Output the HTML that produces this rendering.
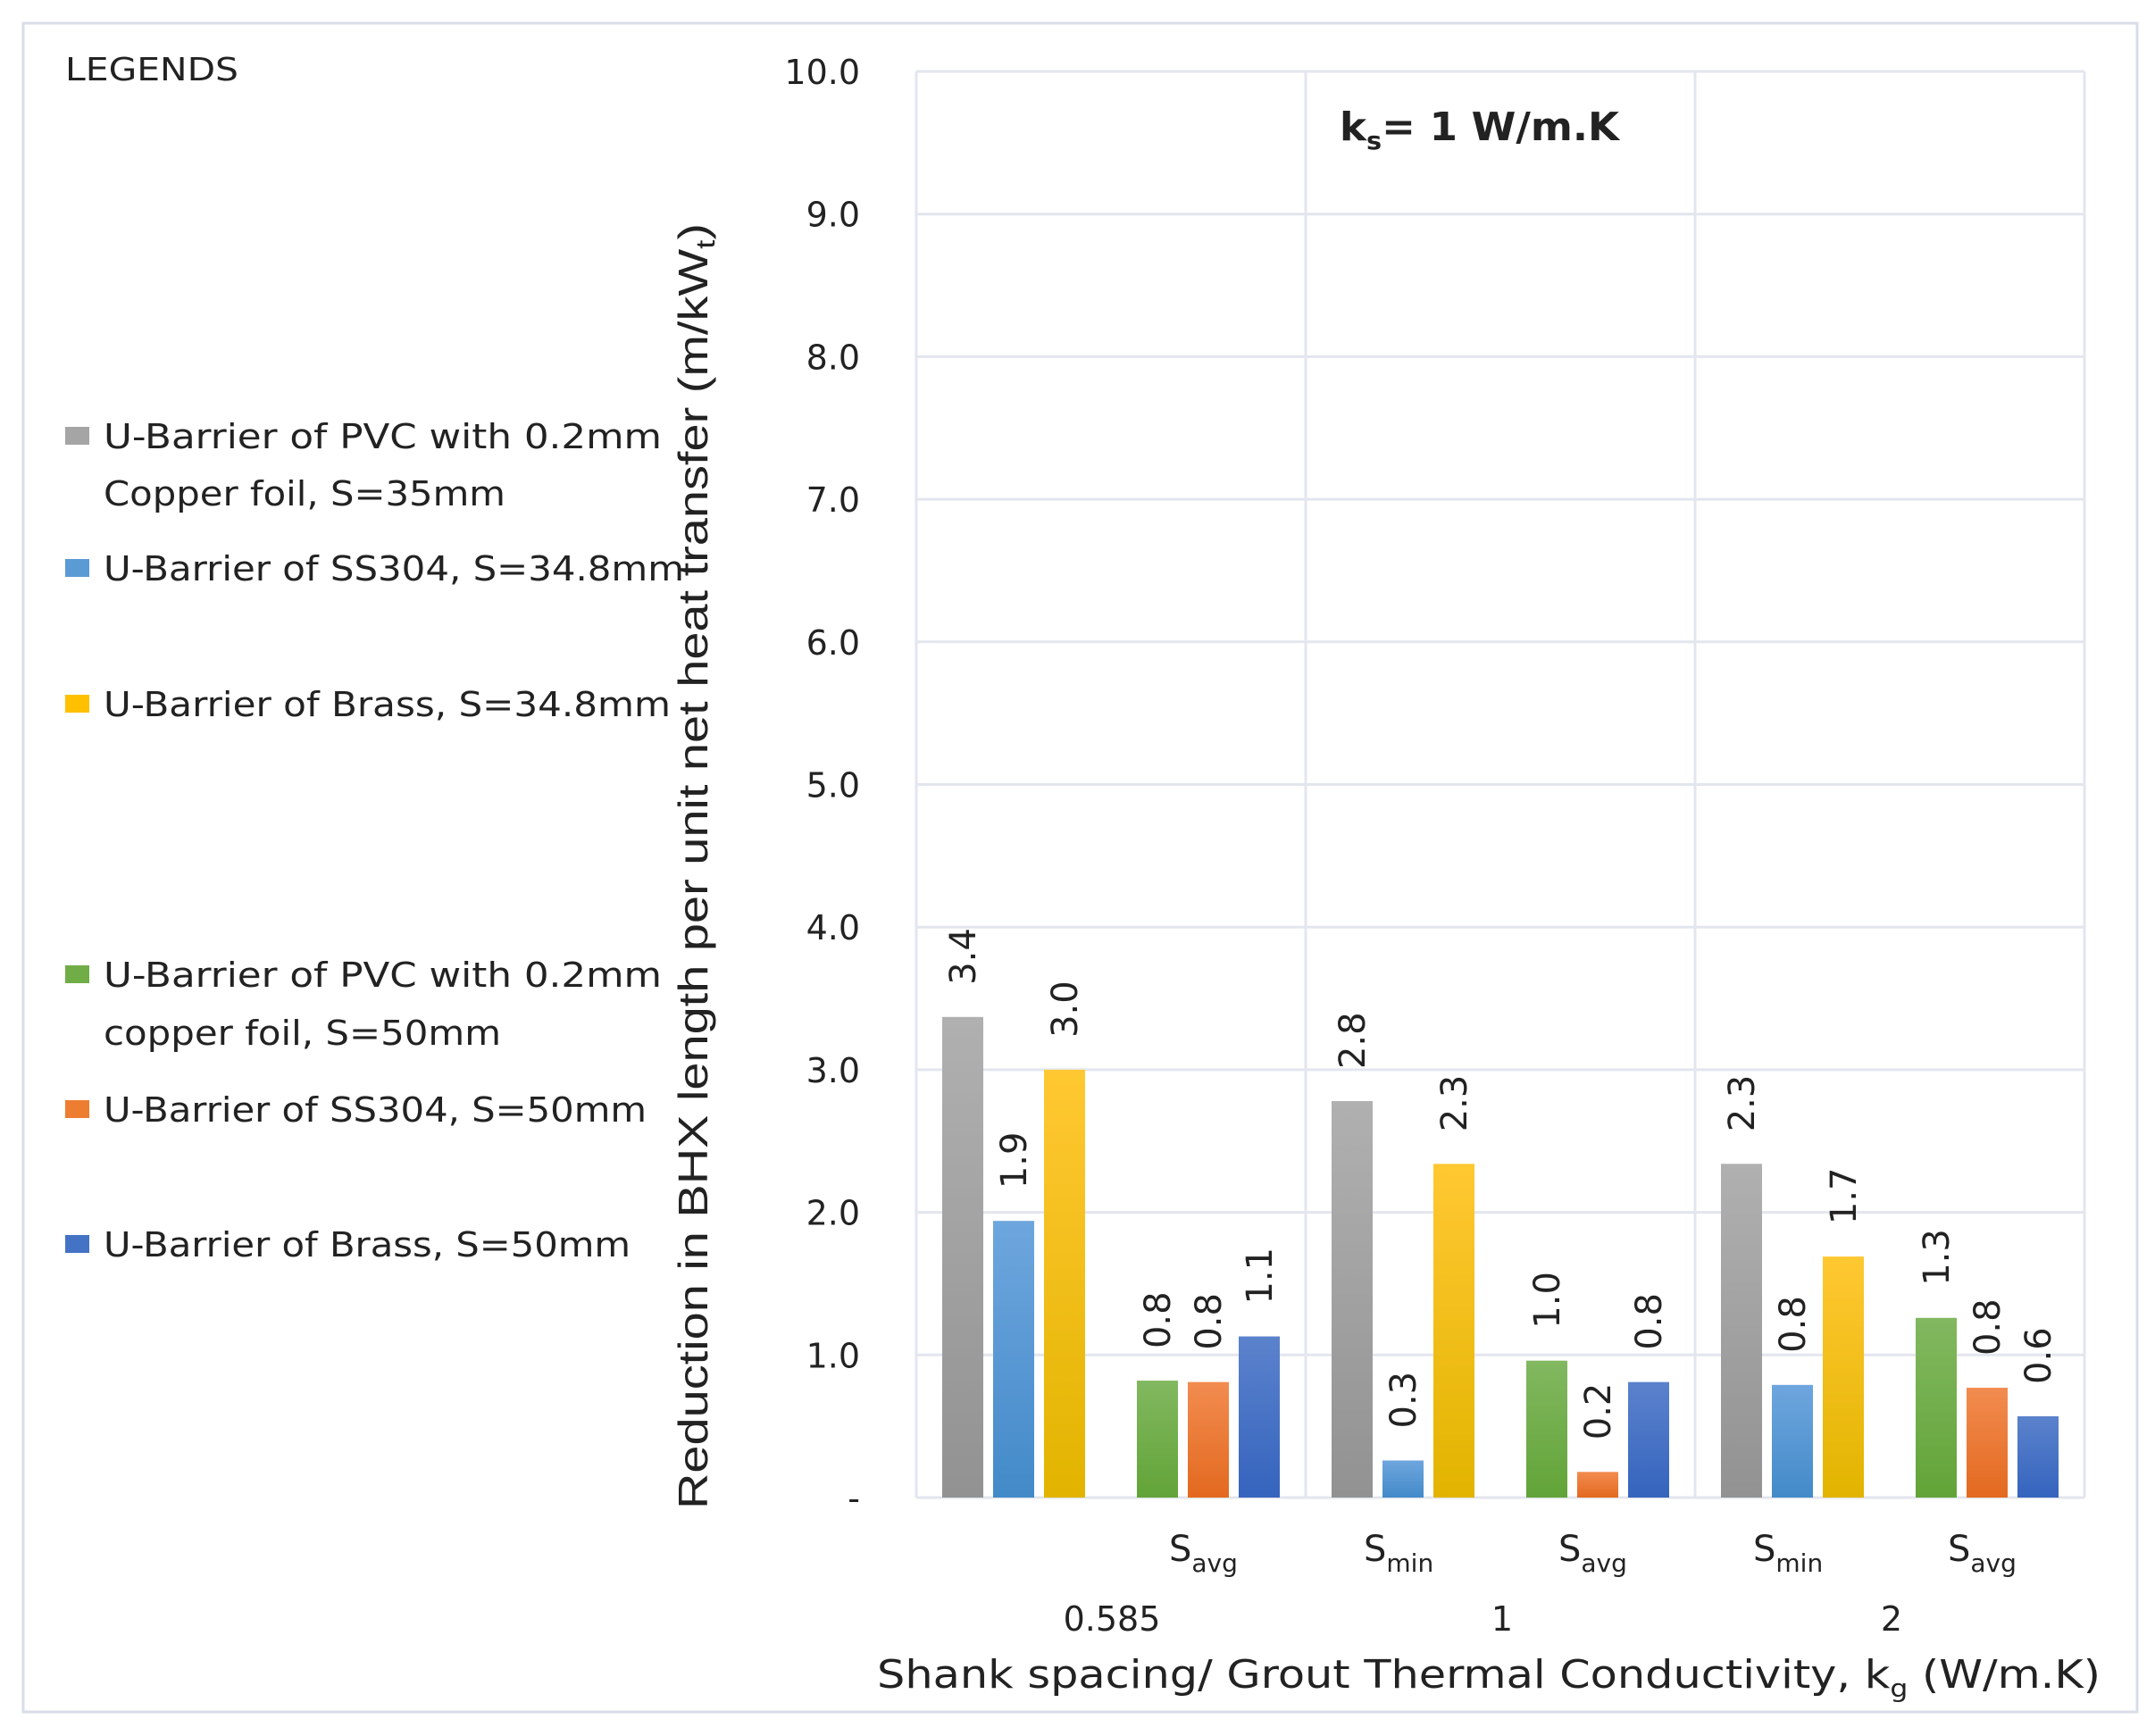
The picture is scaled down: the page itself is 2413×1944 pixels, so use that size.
<!DOCTYPE html>
<html><head><meta charset="utf-8"><style>
html,body{margin:0;padding:0;background:#fff;}
svg{display:block;}
text{font-family:"DejaVu Sans","Liberation Sans",sans-serif;fill:#222;}
</style></head><body>
<svg id="chart" width="2413" height="1944" viewBox="0 0 2413 1944" xmlns="http://www.w3.org/2000/svg">
<defs>
<linearGradient id="g0" x1="0" y1="0" x2="0" y2="1"><stop offset="0" stop-color="#b0b0b0"/><stop offset="1" stop-color="#929292"/></linearGradient>
<linearGradient id="g1" x1="0" y1="0" x2="0" y2="1"><stop offset="0" stop-color="#6ea6de"/><stop offset="1" stop-color="#438ac9"/></linearGradient>
<linearGradient id="g2" x1="0" y1="0" x2="0" y2="1"><stop offset="0" stop-color="#ffc832"/><stop offset="1" stop-color="#e2b400"/></linearGradient>
<linearGradient id="g3" x1="0" y1="0" x2="0" y2="1"><stop offset="0" stop-color="#82b860"/><stop offset="1" stop-color="#62a438"/></linearGradient>
<linearGradient id="g4" x1="0" y1="0" x2="0" y2="1"><stop offset="0" stop-color="#f28c50"/><stop offset="1" stop-color="#e3691f"/></linearGradient>
<linearGradient id="g5" x1="0" y1="0" x2="0" y2="1"><stop offset="0" stop-color="#5b82cc"/><stop offset="1" stop-color="#3564be"/></linearGradient>
</defs>
<rect x="26" y="26" width="2367" height="1891" fill="#fff" stroke="#d9dde8" stroke-width="3"/>
<g id="grid"></g>
<g id="bars"></g>
<g id="ticks"></g>
<text x="1500" y="157" font-size="44" font-weight="bold" textLength="313" lengthAdjust="spacingAndGlyphs">k<tspan font-size="28" dy="10">s</tspan><tspan dy="-10">= 1 W/m.K</tspan></text>
<text transform="translate(792,1690) rotate(-90)" style="font-family:'Liberation Sans Narrow','Liberation Sans',sans-serif" font-size="46" textLength="1440" lengthAdjust="spacingAndGlyphs">Reduction in BHX length per unit net heat transfer (m/kW<tspan font-size="30" dy="8">t</tspan><tspan dy="-8">)</tspan></text>
<g id="cats"></g>
<text x="1245" y="1826" font-size="38" text-anchor="middle">0.585</text>
<text x="1682" y="1826" font-size="38" text-anchor="middle">1</text>
<text x="2118" y="1826" font-size="38" text-anchor="middle">2</text>
<text x="982" y="1890" font-size="44" textLength="1370" lengthAdjust="spacingAndGlyphs">Shank spacing/ Grout Thermal Conductivity,  k<tspan font-size="28" dy="10">g</tspan><tspan dy="-10"> (W/m.K)</tspan></text>
<g>
<text x="73" y="90" font-size="36" textLength="194" lengthAdjust="spacingAndGlyphs">LEGENDS</text>
<g><rect x="73" y="478" width="27" height="20" fill="#a5a5a5"/><text x="116" y="502" font-size="38" textLength="625" lengthAdjust="spacingAndGlyphs">U-Barrier of PVC with 0.2mm</text><text x="116" y="566" font-size="38" textLength="450" lengthAdjust="spacingAndGlyphs">Copper foil, S=35mm</text></g>
<g><rect x="73" y="626" width="27" height="20" fill="#5b9bd5"/><text x="116" y="650" font-size="38" textLength="650" lengthAdjust="spacingAndGlyphs">U-Barrier of SS304, S=34.8mm</text></g>
<g><rect x="73" y="778" width="27" height="20" fill="#ffc000"/><text x="116" y="802" font-size="38" textLength="635" lengthAdjust="spacingAndGlyphs">U-Barrier of Brass, S=34.8mm</text></g>
<g><rect x="73" y="1081" width="27" height="20" fill="#70ad47"/><text x="116" y="1105" font-size="38" textLength="625" lengthAdjust="spacingAndGlyphs">U-Barrier of PVC with 0.2mm</text><text x="116" y="1170" font-size="38" textLength="445" lengthAdjust="spacingAndGlyphs">copper foil, S=50mm</text></g>
<g><rect x="73" y="1232" width="27" height="20" fill="#ed7d31"/><text x="116" y="1256" font-size="38" textLength="608" lengthAdjust="spacingAndGlyphs">U-Barrier of SS304, S=50mm</text></g>
<g><rect x="73" y="1383" width="27" height="20" fill="#4472c4"/><text x="116" y="1407" font-size="38" textLength="590" lengthAdjust="spacingAndGlyphs">U-Barrier of Brass, S=50mm</text></g>
</g>
</svg>
<script>
const categories = ["", "avg", "min", "avg", "min", "avg"];
const seriesA = [3.37, 0.82, 2.78, 0.96, 2.34, 1.26];
const seriesB = [1.94, 0.81, 0.26, 0.18, 0.79, 0.77];
const seriesC = [3.0, 1.13, 2.34, 0.81, 1.69, 0.57];
const yTicks = [0, 1, 2, 3, 4, 5, 6, 7, 8, 9, 10];
const yTickLabels = ["-", "1.0", "2.0", "3.0", "4.0", "5.0", "6.0", "7.0", "8.0", "9.0", "10.0"];

const NS = "http://www.w3.org/2000/svg";
const L = 1026, R = 2334, T = 80, B = 1677, YMAX = 10;
const yS = v => B - (v / YMAX) * (B - T);
const cw = (R - L) / categories.length;
const xC = i => L + (i + 0.5) * cw;
function mk(tag, attrs, parent, txt) {
  const e = document.createElementNS(NS, tag);
  for (const k in attrs) e.setAttribute(k, attrs[k]);
  if (txt !== undefined) e.textContent = txt;
  parent.appendChild(e); return e;
}
const grid = document.getElementById('grid');
yTicks.forEach((t) => {
  const ln = mk('line', {x1: L, x2: R, y1: yS(t), y2: yS(t), stroke: '#e3e6ee', 'stroke-width': 3}, grid);
  
  
});
[0, 2, 4, 6].forEach(k => {
  const ln = mk('line', {x1: L + k * cw, x2: L + k * cw, y1: T, y2: B, stroke: '#e3e6ee', 'stroke-width': 3}, grid);
  
  
});
const ticks = document.getElementById('ticks');
yTicks.forEach((t, i) => {
  const tx = mk('text', {x: 963, y: yS(t) + 14, 'font-size': 38, 'text-anchor': 'end'}, ticks, yTickLabels[i]);
  
  
});
const bars = document.getElementById('bars');
const series = [seriesA, seriesB, seriesC];
const bw = 46, pitch = 57;
categories.forEach((c, i) => {
  series.forEach((s, j) => {
    const v = s[i];
    const x = xC(i) + (j - 1) * pitch - bw / 2;
    const gi = (i % 2 === 0) ? j : j + 3;
    const r = mk('rect', {x: x, y: yS(v), width: bw, height: B - yS(v), fill: 'url(#g' + gi + ')'}, bars);
    
    
    const lx = x + bw / 2 + 14, ly = yS(v) - 36;
    const lb = mk('text', {transform: 'translate(' + lx + ',' + ly + ') rotate(-90)', 'font-size': 40}, bars, v.toFixed(1));
    
    
  });
});
const cats = document.getElementById('cats');
categories.forEach((c, i) => {
  if (!c) return;
  const t = mk('text', {x: xC(i) - 44, y: 1748, 'font-size': 40}, cats);
  
  
  mk('tspan', {}, t, 'S');
  mk('tspan', {'font-size': 28, dy: 12}, t, c);
});
</script>
</body></html>
